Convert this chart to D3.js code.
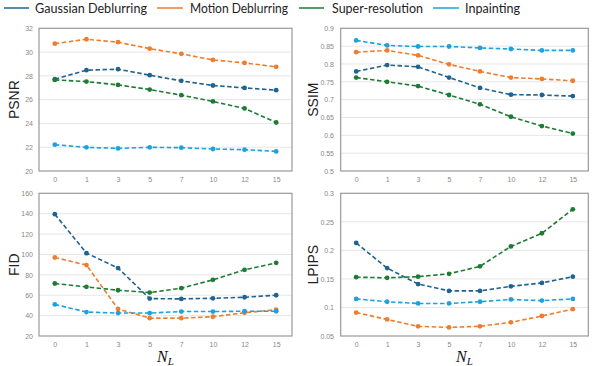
<!DOCTYPE html>
<html><head><meta charset="utf-8">
<script src="https://cdn.jsdelivr.net/npm/d3@7"></script>
<style>body{margin:0;background:#fff}svg{display:block}</style>
</head><body>
<script>
const xLabels = ["0","1","3","5","7","10","12","15"];
const seriesNames = ["Gaussian Deblurring","Motion Deblurring","Super-resolution","Inpainting"];
const seriesColors = ["#1f6391","#ed7d31","#1e7b34","#1ca2dc"];

const psnrGaussian = [27.72,28.48,28.56,28.06,27.58,27.19,26.99,26.80];
const psnrMotion   = [30.71,31.08,30.83,30.29,29.85,29.34,29.09,28.76];
const psnrSR       = [27.66,27.52,27.24,26.85,26.38,25.85,25.26,24.08];
const psnrInpaint  = [22.21,21.99,21.90,21.99,21.96,21.85,21.79,21.65];

const ssimGaussian = [0.779,0.797,0.792,0.762,0.733,0.714,0.713,0.710];
const ssimMotion   = [0.833,0.838,0.824,0.799,0.779,0.762,0.758,0.753];
const ssimSR       = [0.762,0.750,0.738,0.713,0.687,0.652,0.626,0.605];
const ssimInpaint  = [0.866,0.852,0.849,0.849,0.845,0.842,0.838,0.838];

const fidGaussian = [139.5,101.3,86.6,56.7,56.4,57.0,58.0,60.0];
const fidMotion   = [97.0,89.6,46.5,37.5,37.5,38.9,42.8,45.8];
const fidSR       = [71.5,68.2,64.9,62.6,66.9,75.1,84.9,91.8];
const fidInpaint  = [51.0,43.5,42.5,42.5,44.0,44.0,44.3,44.3];

const lpipsGaussian = [0.213,0.169,0.141,0.129,0.129,0.137,0.143,0.154];
const lpipsMotion   = [0.091,0.079,0.067,0.065,0.067,0.074,0.085,0.097];
const lpipsSR       = [0.153,0.152,0.154,0.159,0.172,0.207,0.230,0.272];
const lpipsInpaint  = [0.115,0.110,0.107,0.107,0.110,0.114,0.112,0.115];

const psnrTicks = [20,22,24,26,28,30,32];
const ssimTicks = [0.5,0.55,0.6,0.65,0.7,0.75,0.8,0.85,0.9];
const fidTicks = [20,40,60,80,100,120,140,160];
const lpipsTicks = [0.05,0.1,0.15,0.2,0.25,0.3];

const panels = [
  {title:"PSNR", ticks:psnrTicks, data:[psnrGaussian,psnrMotion,psnrSR,psnrInpaint], x0:39, x1:292, y0:28.3, y1:171, tx:33, titleX:14, nl:false},
  {title:"SSIM", ticks:ssimTicks, data:[ssimGaussian,ssimMotion,ssimSR,ssimInpaint], x0:340.7, x1:588.3, y0:28.3, y1:171, tx:334, titleX:313, nl:false},
  {title:"FID", ticks:fidTicks, data:[fidGaussian,fidMotion,fidSR,fidInpaint], x0:39, x1:292, y0:193.3, y1:336, tx:33, titleX:14, nl:true},
  {title:"LPIPS", ticks:lpipsTicks, data:[lpipsGaussian,lpipsMotion,lpipsSR,lpipsInpaint], x0:340.7, x1:588.3, y0:193.3, y1:336, tx:334, titleX:313, nl:true}
];

const svg = d3.select("body").append("svg").attr("width",604).attr("height",366);

// legend
const legendPos = [[4,29,35,112],[157,183,190,98],[299,324,332,91],[433,459,465,55]];
seriesNames.forEach((n,i)=>{
  const p = legendPos[i];
  svg.append("line").attr("x1",p[0]).attr("x2",p[1]).attr("y1",8).attr("y2",8)
    .attr("stroke",seriesColors[i]).attr("stroke-width",1.5);
  svg.append("text").attr("x",p[2]).attr("y",12.5).text(n)
    .attr("textLength",p[3]).attr("lengthAdjust","spacingAndGlyphs")
    .attr("font-family","Lato, 'Open Sans', sans-serif").attr("font-size",13).attr("fill","#222");
});

panels.forEach(P=>{
  const g = svg.append("g");
  const x = d3.scalePoint().domain(xLabels).range([P.x0,P.x1]).padding(0.5);
  const y = d3.scaleLinear().domain([P.ticks[0],P.ticks[P.ticks.length-1]]).range([P.y1,P.y0]);
  g.selectAll(".grid").data(P.ticks.slice(1,-1)).join("line")
    .attr("x1",P.x0).attr("x2",P.x1).attr("y1",d=>y(d)).attr("y2",d=>y(d))
    .attr("stroke","#e6e6e6").attr("stroke-width",1);
  const ya = d3.axisLeft(y).tickValues(P.ticks).tickSize(0).tickPadding(0).tickFormat(d=>String(+d.toFixed(2)));
  const yg = g.append("g").attr("transform",`translate(${P.tx},0)`).call(ya);
  yg.select(".domain").remove();
  yg.selectAll("text").attr("font-family","Liberation Sans, Arial, sans-serif").attr("font-size",7).attr("fill","#888");
  const xa = d3.axisBottom(x).tickSize(0).tickPadding(0);
  const xg = g.append("g").attr("transform",`translate(0,${P.y1+6})`).call(xa);
  xg.select(".domain").remove();
  xg.selectAll("text").attr("font-family","Liberation Sans, Arial, sans-serif").attr("font-size",7).attr("fill","#888");
  g.append("rect").attr("x",P.x0).attr("y",P.y0).attr("width",P.x1-P.x0).attr("height",P.y1-P.y0)
    .attr("fill","none").attr("stroke","#999").attr("stroke-width",1.2);
  g.append("text").attr("transform",`translate(${P.titleX+5},${(P.y0+P.y1)/2}) rotate(-90)`)
    .attr("text-anchor","middle").attr("font-family","Liberation Sans, Arial, sans-serif")
    .attr("font-size",14).attr("fill","#222").text(P.title);
  const line = d3.line().x((d,i)=>x(xLabels[i])).y(d=>y(d));
  P.data.forEach((s,si)=>{
    g.append("path").datum(s).attr("d",line).attr("fill","none")
      .attr("stroke",seriesColors[si]).attr("stroke-width",1.6).attr("stroke-dasharray","4.5,2.5");
    g.selectAll(null).data(s).join("circle")
      .attr("cx",(d,i)=>x(xLabels[i])).attr("cy",d=>y(d)).attr("r",2.4).attr("fill",seriesColors[si]);
  });
  if(P.nl){
    const t = g.append("text").attr("x",(P.x0+P.x1)/2).attr("y",362).attr("text-anchor","middle")
      .attr("font-family","Liberation Serif, 'Times New Roman', serif").attr("font-style","italic")
      .attr("font-size",16).attr("fill","#111");
    t.append("tspan").text("N");
    t.append("tspan").attr("font-size",11).attr("dy",3).text("L");
  }
});
</script>
</body></html>
